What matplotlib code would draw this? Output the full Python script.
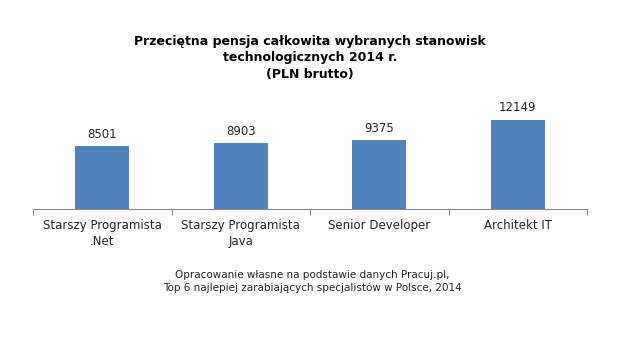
import matplotlib.pyplot as plt

# categories and values
stanowiska = ["Starszy Programista\n.Net", "Starszy Programista\nJava", "Senior Developer", "Architekt IT"]
pensja = [8501, 8903, 9375, 12149]

W, H = 620, 355
fig = plt.figure(figsize=(W / 100, H / 100), dpi=100)
fig.patch.set_facecolor("white")

# plot area placed in pixel coordinates of the reference
ax = fig.add_axes([33 / W, 1 - 209 / H, (587 - 33) / W, (209 - 106) / H])

x = list(range(len(stanowiska)))
bars = ax.bar(x, pensja, width=0.39, color="#4F81BD")
ax.set_xlim(-0.5, len(stanowiska) - 0.5)
ax.set_ylim(0, 14000)

for b, v in zip(bars, pensja):
    ax.text(b.get_x() + b.get_width() / 2, v + 700, str(v), ha="center", va="bottom",
            fontsize=8.5, color="#222222")

ax.set_xticks([i + 0.5 for i in range(-1, len(stanowiska))], minor=False)
ax.set_xticklabels([])
ax.tick_params(axis="x", length=4, color="#888888", direction="out")
for i, lab in enumerate(stanowiska):
    ax.text(i, -1350, lab, ha="center", va="top", fontsize=8.5, color="#222222",
            linespacing=1.3)

ax.set_yticks([])
for s in ["top", "right", "left"]:
    ax.spines[s].set_visible(False)
ax.spines["bottom"].set_color("#888888")

fig.text(310 / W, 1 - 35 / H,
         "Przeciętna pensja całkowita wybranych stanowisk\ntechnologicznych 2014 r.\n(PLN brutto)",
         ha="center", va="top", fontsize=9, fontweight="bold", linespacing=1.35)

fig.text(312 / W, 1 - 270 / H,
         "Opracowanie własne na podstawie danych Pracuj.pl,\nTop 6 najlepiej zarabiających specjalistów w Polsce, 2014",
         ha="center", va="top", fontsize=7.5, color="#222222", linespacing=1.35)

fig.savefig("out.png", dpi=100, facecolor="white")
